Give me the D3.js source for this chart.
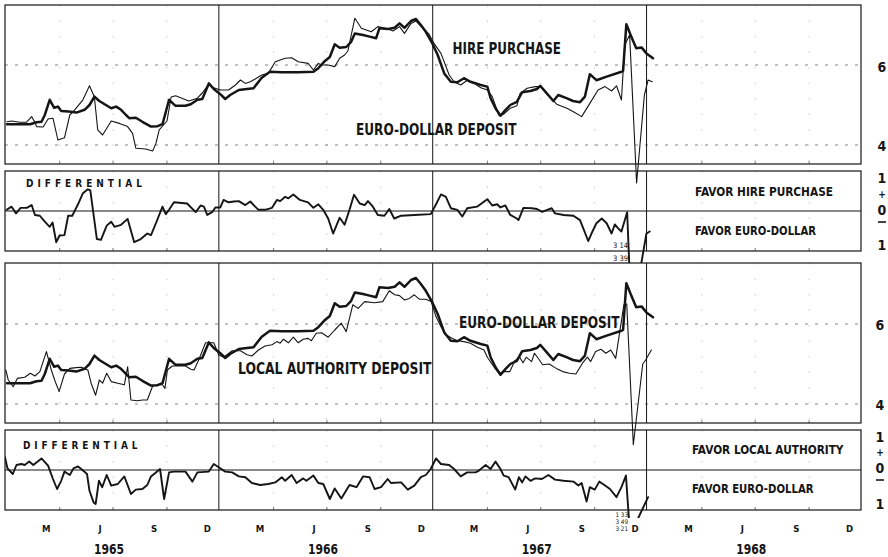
<!DOCTYPE html>
<html><head><meta charset="utf-8">
<script src="https://cdn.jsdelivr.net/npm/d3@7"></script>
<style>
html,body{margin:0;padding:0;background:#fff;}
svg{display:block;font-family:'Liberation Sans Narrow','DejaVu Sans Condensed','Roboto Condensed','Arial Narrow','Liberation Sans',sans-serif;}
</style></head><body>
<svg id="chart" width="888" height="557"></svg>
<script>
// ---- DATA (week number since 1 Jan 1965, percent) ----
const euroDollar = [[0.5,4.52],[6.1,4.52],[7.7,4.57],[8.9,4.58],[9.7,4.75],[10.9,5.13],[12.0,4.93],[12.9,4.96],[13.7,4.85],[15.5,4.84],[17.4,4.81],[19.4,4.88],[20.6,5.0],[21.8,5.21],[23.0,5.1],[24.6,5.0],[25.9,4.92],[27.1,4.96],[28.3,4.88],[29.5,4.75],[30.3,4.67],[31.9,4.68],[33.5,4.58],[35.6,4.46],[37.2,4.47],[38.4,4.52],[40.0,5.13],[41.6,4.98],[44.0,4.98],[45.3,5.02],[46.9,5.13],[48.1,5.15],[49.7,5.54],[50.9,5.4],[52.5,5.27],[53.7,5.15],[54.9,5.25],[57.0,5.375],[59.0,5.4],[60.6,5.42],[62.6,5.68],[64.6,5.83],[67.5,5.82],[71.5,5.82],[75.2,5.83],[76.4,5.92],[77.8,6.08],[79.2,6.2],[80.4,6.52],[81.6,6.43],[83.2,6.45],[84.4,6.58],[85.3,6.79],[87.3,6.75],[88.9,6.71],[90.5,6.67],[91.3,6.92],[93.4,6.9],[95.0,6.93],[96.2,7.04],[97.4,6.93],[99.0,7.1],[100.2,7.15],[101.4,7.0],[102.6,6.83],[104.2,6.54],[105.5,6.25],[107.1,5.79],[108.7,5.58],[110.3,5.57],[111.9,5.67],[113.5,5.58],[116.0,5.5],[117.6,5.46],[118.4,5.17],[119.6,4.92],[120.8,4.73],[122.0,4.87],[123.2,5.0],[124.8,5.08],[126.1,5.32],[128.1,5.35],[129.7,5.4],[130.5,5.48],[132.1,5.29],[133.7,5.1],[134.9,5.25],[136.9,5.17],[138.5,5.1],[140.2,5.07],[141.4,5.21],[142.6,5.77],[144.2,5.62],[146.7,5.71],[150.3,5.83],[150.7,5.85],[151.5,7.02],[152.7,6.71],[153.9,6.42],[155.2,6.44],[156.4,6.29],[158.0,6.17]];

const hirePurchase = [[0.5,4.58],[1.6,4.6],[3.6,4.57],[5.25,4.57],[6.5,4.71],[7.3,4.57],[7.7,4.46],[9.3,4.45],[10.5,4.65],[11.7,4.67],[12.9,4.125],[14.5,4.18],[15.8,4.75],[17.0,4.88],[19.0,5.13],[20.6,5.48],[21.8,5.2],[22.6,4.38],[23.8,4.25],[25.9,4.6],[27.9,4.54],[29.9,4.46],[31.1,4.29],[31.9,3.92],[34.3,3.9],[36.0,3.85],[36.8,4.04],[37.6,4.38],[39.5,4.6],[40.5,5.2],[41.6,5.23],[44.8,5.1],[46.9,5.17],[48.1,5.3],[49.7,5.52],[50.9,5.43],[52.5,5.375],[54.5,5.375],[56.2,5.5],[57.4,5.625],[58.6,5.54],[59.8,5.58],[61.0,5.65],[62.6,5.75],[64.2,5.79],[65.9,6.08],[68.3,6.17],[69.9,6.18],[71.5,6.08],[73.9,6.04],[75.2,5.875],[76.4,6.04],[77.2,6.0],[78.8,6.0],[80.4,5.96],[81.6,6.17],[82.8,6.25],[83.6,6.35],[85.3,7.17],[86.9,6.92],[89.3,6.83],[90.9,6.96],[93.4,6.9],[94.6,6.85],[96.2,6.96],[97.4,6.79],[99.0,7.04],[100.2,7.1],[101.8,6.93],[103.4,6.77],[104.6,6.54],[106.3,6.29],[108.3,5.75],[109.5,5.58],[111.1,5.5],[112.7,5.62],[114.4,5.54],[116.0,5.43],[117.6,5.375],[118.8,5.21],[120.4,4.75],[121.6,4.77],[123.2,4.92],[124.8,4.98],[125.6,5.29],[127.3,5.42],[129.3,5.46],[130.5,5.46],[132.1,5.29],[134.5,5.02],[137.0,4.92],[138.6,4.83],[140.6,4.71],[142.6,5.04],[144.6,5.375],[146.3,5.46],[147.9,5.35],[149.1,5.48],[150.3,5.125],[151.1,6.5],[152.3,6.75],[154.0,3.05],[155.9,5.25],[156.8,5.625],[157.8,5.58]];

const localAuthority = [[0.2,4.85],[0.8,4.6],[2.0,4.43],[3.0,4.64],[4.8,4.67],[6.2,4.77],[7.3,4.7],[8.5,4.81],[10.1,5.31],[11.3,4.85],[12.1,4.6],[13.2,4.31],[14.5,4.75],[15.8,4.89],[17.4,4.91],[18.6,4.92],[20.2,4.85],[21.0,4.52],[22.1,4.22],[23.0,4.6],[23.8,4.52],[24.8,4.77],[25.9,4.56],[27.5,4.52],[29.1,4.48],[29.9,4.93],[30.7,4.1],[32.3,4.08],[33.5,4.1],[34.7,4.1],[36.0,4.45],[37.2,4.48],[38.4,4.48],[39.0,4.39],[39.6,4.85],[40.8,4.95],[44.0,4.95],[45.3,4.87],[46.1,4.85],[47.3,5.12],[48.9,5.53],[50.9,5.53],[52.1,5.23],[53.3,5.17],[55.4,5.33],[57.4,5.33],[59.0,5.23],[60.2,5.2],[61.8,5.35],[63.4,5.45],[65.1,5.48],[66.3,5.56],[67.1,5.52],[67.9,5.62],[69.1,5.53],[70.3,5.67],[71.5,5.53],[72.7,5.62],[73.9,5.64],[74.7,5.58],[75.9,5.77],[77.2,5.78],[78.8,5.67],[80.4,5.85],[82.0,6.02],[83.2,5.81],[84.8,6.48],[86.1,6.39],[87.7,6.56],[90.1,6.53],[92.1,6.56],[93.7,6.83],[95.0,6.73],[96.2,6.71],[97.4,6.6],[98.6,6.64],[99.8,6.73],[101.0,6.62],[102.6,6.62],[103.9,6.56],[105.1,6.18],[106.3,5.93],[107.5,5.73],[109.1,5.64],[110.3,5.58],[111.9,5.56],[113.5,5.52],[115.2,5.42],[116.8,5.35],[117.6,5.17],[119.2,4.93],[120.4,4.77],[121.6,4.81],[123.1,4.81],[124.3,5.08],[125.5,5.17],[126.3,5.03],[127.1,5.17],[128.4,5.06],[129.1,5.27],[130.3,5.1],[131.1,4.98],[132.7,5.0],[134.4,4.89],[136.0,4.81],[137.6,4.77],[139.2,4.75],[140.8,5.02],[142.0,5.17],[142.8,5.06],[144.0,5.31],[145.3,5.37],[146.5,5.27],[147.7,5.35],[148.9,5.14],[150.9,6.48],[151.6,6.5],[153.2,2.98],[155.5,5.0],[156.2,5.1],[157.6,5.35]];

const diffHire = [[0.4,0.03],[1.6,0.11],[2.7,-0.06],[3.8,0.08],[5.3,0.08],[6.5,0.15],[7.3,-0.1],[8.5,-0.12],[9.7,-0.27],[10.9,-0.4],[11.6,-0.29],[12.5,-0.79],[13.3,-0.62],[14.5,-0.61],[15.4,-0.12],[16.4,-0.12],[17.8,0.17],[19.0,0.45],[20.2,0.55],[20.8,0.52],[22.4,-0.71],[23.4,-0.73],[24.8,-0.37],[25.9,-0.27],[26.7,-0.4],[28.3,-0.35],[29.9,-0.2],[31.5,-0.79],[33.1,-0.71],[34.7,-0.57],[35.6,-0.61],[36.8,-0.31],[38.4,0.11],[39.2,-0.08],[40.0,0.03],[41.2,0.22],[44.4,0.19],[46.5,-0.03],[47.7,0.14],[48.5,0.11],[49.3,-0.1],[50.5,-0.03],[51.3,0.09],[52.5,0.09],[53.3,0.28],[54.5,0.22],[55.8,0.24],[57.0,0.25],[58.6,0.15],[59.8,0.24],[61.0,0.11],[61.8,0.03],[63.4,0.03],[65.1,0.08],[66.3,0.28],[67.1,0.25],[68.3,0.36],[69.1,0.32],[70.3,0.42],[71.9,0.28],[73.9,0.22],[75.2,0.08],[76.4,0.17],[77.6,0.03],[78.8,-0.19],[80.0,-0.57],[81.6,-0.17],[82.8,-0.35],[84.0,0.03],[85.1,0.41],[86.5,0.19],[87.7,0.15],[88.5,0.25],[89.7,0.11],[90.9,-0.1],[92.5,-0.12],[93.7,0.05],[94.9,-0.19],[96.6,-0.12],[99.8,-0.1],[103.8,-0.08],[105.1,0.17],[106.3,0.42],[107.5,0.36],[108.7,0.07],[110.3,0.03],[111.5,-0.14],[112.7,0.07],[115.1,0.11],[117.6,0.3],[118.8,0.14],[120.0,0.17],[120.8,0.09],[122.0,0.14],[123.2,-0.1],[124.8,-0.19],[125.2,-0.23],[126.4,0.08],[128.5,0.07],[129.7,0.05],[131.0,-0.02],[132.2,0.03],[133.3,0.07],[134.1,-0.06],[136.2,-0.1],[138.6,-0.12],[140.2,-0.23],[141.0,-0.44],[142.2,-0.76],[143.0,-0.57],[144.2,-0.31],[145.5,-0.19],[146.7,-0.31],[147.9,-0.57],[148.7,-0.34],[149.5,-0.44],[150.3,-0.52],[151.7,-0.03],[152.9,-3.14],[154.0,-3.39],[155.1,-1.35],[156.4,-0.57],[157.2,-0.52]];

const diffLocal = [[0.0,0.32],[0.6,0.04],[1.9,-0.1],[2.8,0.125],[4.0,0.15],[4.8,0.125],[5.9,0.21],[6.9,0.125],[8.9,0.29],[10.5,0.11],[11.7,-0.225],[12.7,-0.475],[13.7,-0.27],[14.5,-0.04],[15.8,-0.125],[16.7,0.04],[17.8,0.09],[18.6,0.025],[20.0,-0.1],[20.6,-0.52],[21.6,-0.81],[22.1,-0.85],[22.9,-0.27],[23.7,-0.43],[24.8,-0.125],[25.9,-0.39],[27.5,-0.35],[29.1,-0.16],[30.7,-0.6],[31.9,-0.49],[33.5,-0.475],[34.7,-0.375],[35.6,-0.16],[36.8,-0.06],[37.8,0.025],[38.8,-0.725],[40.0,-0.06],[41.2,-0.04],[44.0,-0.04],[45.7,-0.29],[46.9,-0.06],[49.7,-0.04],[50.9,0.15],[52.1,0.07],[53.7,-0.04],[55.4,-0.06],[57.0,-0.16],[58.6,-0.18],[60.2,-0.325],[62.2,-0.375],[64.2,-0.35],[65.9,-0.31],[67.5,-0.18],[68.3,-0.27],[69.9,-0.125],[71.1,-0.325],[72.7,-0.21],[73.5,-0.27],[75.2,-0.14],[76.4,-0.325],[77.6,-0.35],[79.2,-0.725],[80.4,-0.46],[82.0,-0.71],[84.0,-0.375],[85.7,-0.43],[87.3,-0.16],[88.9,-0.18],[90.1,-0.475],[91.7,-0.43],[93.3,-0.225],[94.1,-0.325],[96.6,-0.31],[98.2,-0.49],[99.8,-0.39],[101.4,-0.18],[102.6,-0.125],[103.8,0.025],[105.1,0.29],[106.3,0.15],[108.3,0.125],[109.5,0.025],[111.1,-0.16],[112.7,-0.06],[114.7,-0.06],[115.5,-0.02],[117.2,0.125],[118.4,0.025],[119.6,0.21],[120.8,0.025],[121.6,-0.14],[122.8,-0.18],[124.4,-0.49],[125.3,-0.18],[126.1,-0.31],[126.9,-0.16],[128.1,-0.27],[129.3,-0.21],[130.9,-0.225],[132.5,-0.125],[134.1,-0.24],[136.2,-0.27],[138.6,-0.29],[139.8,-0.39],[140.6,-0.325],[141.8,-0.79],[142.6,-0.43],[143.8,-0.49],[144.9,-0.29],[145.8,-0.35],[147.5,-0.475],[149.1,-0.68],[150.3,-0.43],[151.4,-0.14],[152.2,-1.33],[153.0,-3.49],[153.8,-3.21],[154.4,-1.2],[156.8,-0.68]];

const offscaleHire = ["3 14","3 39"];
const offscaleLocal = ["1 33","3 49","3 21"];
const monthLabels = ["M","J","S","D"];
const monthIndex = [2,5,8,11];
const years = [1965,1966,1967,1968];
const levelTicks = [6,4];

// ---- LAYOUT ----
const START = new Date(1965,0,1);
const wk = w => new Date(START.getTime() + w*7*864e5);
const svg = d3.select("#chart");
const x = d3.scaleTime().domain([new Date(1965,0,1), new Date(1969,0,1)]).range([5,861]);
const X0 = x.range()[0], X1 = x.range()[1];
const ink = "#151515";

const panels = [
  {key:"p1", top:5, bottom:164, y:d3.scaleLinear().domain([4,6]).range([145,65])},
  {key:"p2", top:171, bottom:251, clipBottom:263, y:d3.scaleLinear().domain([-1,1]).range([250.5,171.5])},
  {key:"p3", top:263, bottom:423, y:d3.scaleLinear().domain([4,6]).range([404,324])},
  {key:"p4", top:430, bottom:510, clipBottom:518, y:d3.scaleLinear().domain([-1,1]).range([510,430])}
];

const defs = svg.append("defs");
panels.forEach(p=>{
  if(p.clipBottom){
    defs.append("clipPath").attr("id","clip-"+p.key).append("rect")
      .attr("x",X0).attr("y",p.top).attr("width",X1-X0).attr("height",p.clipBottom-p.top);
  }
});

// quarter dotted guides & year lines
const quarters = d3.timeMonth.every(3).range(new Date(1965,0,1), new Date(1969,0,1)).filter(d=>d.getMonth()!==0);
const yearLines = years.slice(1).map(yv=>new Date(yv,0,1));
panels.forEach(p=>{
  const g = svg.append("g");
  g.selectAll("line.q").data(quarters).join("line")
    .attr("x1",d=>x(d)+2).attr("x2",d=>x(d)+2).attr("y1",p.top).attr("y2",p.bottom)
    .attr("stroke","#b5b5b5").attr("stroke-width",0.7).attr("stroke-dasharray","1.5,14");
  g.selectAll("line.q2").data(quarters).join("line")
    .attr("x1",d=>x(d)+2).attr("x2",d=>x(d)+2).attr("y1",p.bottom-3).attr("y2",p.bottom)
    .attr("stroke","#666").attr("stroke-width",0.8);
  if(p.key==="p1"||p.key==="p3"){
    g.selectAll("line.grid").data(levelTicks).join("line")
      .attr("x1",X0).attr("x2",X1).attr("y1",d=>p.y(d)).attr("y2",d=>p.y(d))
      .attr("stroke","#666").attr("stroke-width",0.8).attr("stroke-dasharray","3,7");
  } else {
    g.append("line").attr("x1",X0).attr("x2",X1).attr("y1",p.y(0)).attr("y2",p.y(0))
      .attr("stroke",ink).attr("stroke-width",1);
  }
  g.selectAll("line.yr").data(yearLines).join("line")
    .attr("x1",d=>x(d)).attr("x2",d=>x(d)).attr("y1",p.top).attr("y2",p.bottom)
    .attr("stroke",ink).attr("stroke-width",1);
  g.append("rect").attr("x",X0).attr("y",p.top).attr("width",X1-X0).attr("height",p.bottom-p.top)
    .attr("fill","none").attr("stroke",ink).attr("stroke-width",1.2);
});

function drawLine(p, data, width, clip){
  const line = d3.line().x(d=>x(wk(d[0]))).y(d=>p.y(d[1]));
  const path = svg.append("path").datum(data).attr("d",line)
    .attr("fill","none").attr("stroke",ink).attr("stroke-width",width)
    .attr("stroke-linejoin","round").attr("stroke-linecap","round");
  if(clip) path.attr("clip-path","url(#clip-"+p.key+")");
}
drawLine(panels[0], hirePurchase, 1.1);
drawLine(panels[0], euroDollar, 2.5);
drawLine(panels[1], diffHire, 1.9, true);
drawLine(panels[2], localAuthority, 1.1);
drawLine(panels[2], euroDollar, 2.5);
drawLine(panels[3], diffLocal, 1.9, true);

// ---- TEXT ----
function label(str, x0, base, len, size, weight){
  const t = svg.append("text").attr("x",x0).attr("y",base).attr("font-size",size)
    .attr("font-weight",weight).attr("fill",ink).text(str);
  const nat = t.node().getComputedTextLength();
  t.attr("textLength",len).attr("lengthAdjust", nat>len ? "spacingAndGlyphs" : "spacing");
  return t;
}
function center(str, cx, base, size, weight, len){
  const t = svg.append("text").attr("x",cx).attr("y",base).attr("font-size",size)
    .attr("font-weight",weight).attr("text-anchor","middle").attr("fill",ink).text(str);
  if(len){
    const nat = t.node().getComputedTextLength();
    t.attr("textLength",len).attr("lengthAdjust", nat>len ? "spacingAndGlyphs" : "spacing");
  }
  return t;
}

label("HIRE PURCHASE", 452.5, 54, 108.5, 16, "bold");
label("EURO-DOLLAR DEPOSIT", 356, 134.5, 160.5, 16, "bold");
label("EURO-DOLLAR DEPOSIT", 459, 327.5, 160.5, 16, "bold");
label("LOCAL AUTHORITY DEPOSIT", 238, 374, 193.5, 16, "bold");
label("DIFFERENTIAL", 26, 186.5, 116, 10, "bold");
label("DIFFERENTIAL", 23, 448.5, 114.5, 10, "bold");
label("FAVOR HIRE PURCHASE", 695, 195.7, 138, 12.5, "bold");
label("FAVOR EURO-DOLLAR", 695, 235, 121, 12.5, "bold");
label("FAVOR LOCAL AUTHORITY", 692, 454, 151.5, 12.5, "bold");
label("FAVOR EURO-DOLLAR", 692, 493.3, 121.5, 12.5, "bold");

// right-hand scale labels
[[panels[0],882,[71.7,150.7]],[panels[2],880,[330,410]]].forEach(([p,cx,bases])=>{
  levelTicks.forEach((v,i)=>center(String(v), cx, bases[i], 14, "bold"));
});
[[882,[183,198,215,222,250]],[880,[442,456,473,480,509]]].forEach(([cx,b])=>{
  center("1", cx, b[0], 14, "bold");
  center("+", cx, b[1], 10, "bold");
  center("0", cx, b[2], 14, "bold");
  svg.append("line").attr("x1",cx-4).attr("x2",cx+4).attr("y1",b[3]).attr("y2",b[3])
    .attr("stroke",ink).attr("stroke-width",1.6);
  center("1", cx, b[4], 14, "bold");
});

// off-scale values
offscaleHire.forEach((s,i)=>svg.append("text").attr("x",628).attr("y",[248,261][i])
  .attr("text-anchor","end").attr("font-size",7.5).attr("fill",ink).text(s));
offscaleLocal.forEach((s,i)=>svg.append("text").attr("x",628).attr("y",[516.5,524,531][i])
  .attr("text-anchor","end").attr("font-size",6.3).attr("fill",ink).text(s));

// x axis labels
years.forEach(yv=>{
  monthIndex.forEach((m,i)=>{
    center(monthLabels[i], x(new Date(yv,m,15))-1.5, 532.3, 9.5, "bold");
  });
  center(String(yv), x(new Date(yv,6,1))-2, 553.8, 13.5, "bold", 30);
});
</script>
</body></html>
